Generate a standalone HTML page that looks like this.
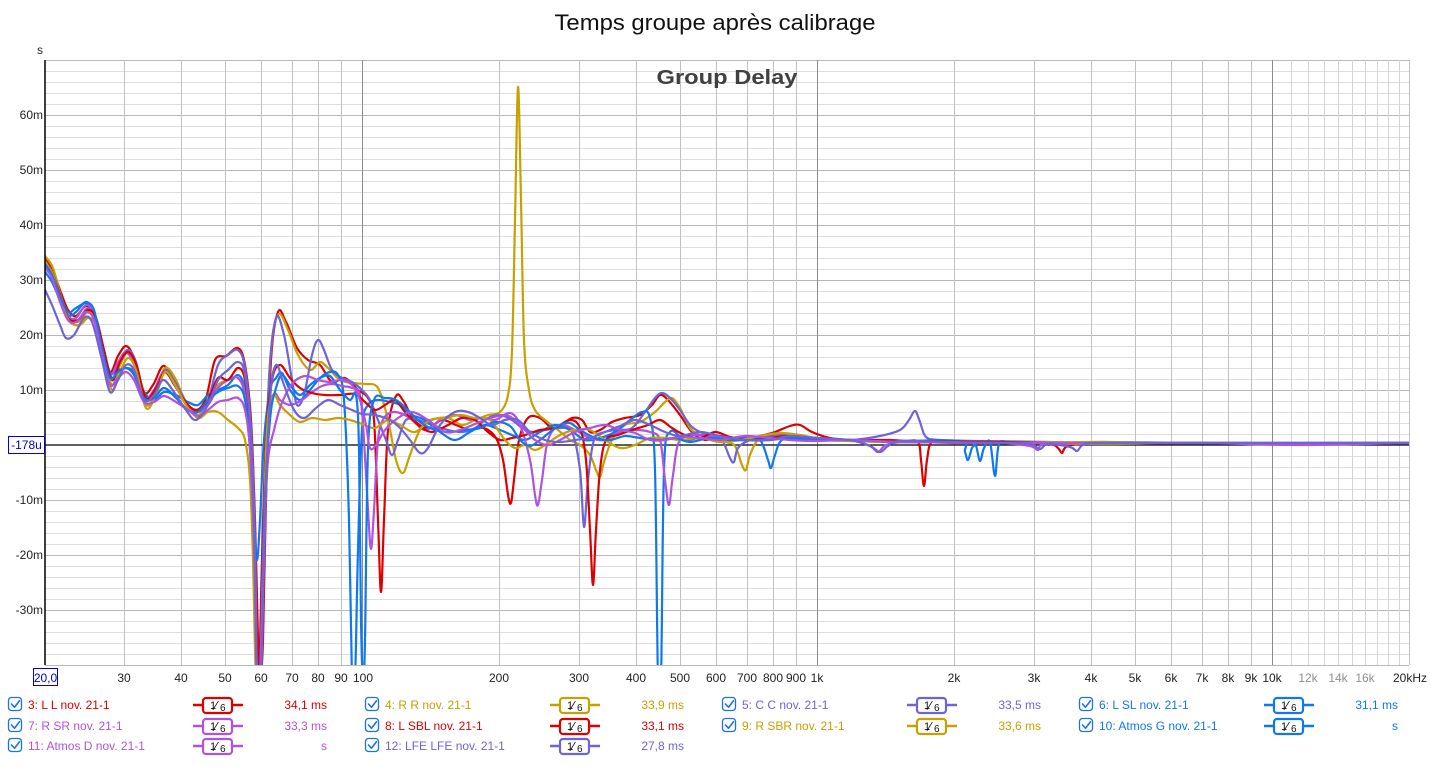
<!DOCTYPE html>
<html><head><meta charset="utf-8">
<style>
html,body{margin:0;padding:0;background:#fff;}
svg{display:block;font-family:"Liberation Sans",sans-serif;}
</style></head>
<body>
<svg id="c" width="1431" height="779" viewBox="0 0 1431 779" xmlns="http://www.w3.org/2000/svg">
<rect x="0" y="0" width="1431" height="779" fill="#fff"/>
<defs><clipPath id="pc"><rect x="45" y="60" width="1364" height="605"/></clipPath></defs>
<g id="grid"></g>
<line x1="45" y1="445" x2="1409" y2="445" stroke="#000" stroke-width="1.2"/>
<g id="curves" clip-path="url(#pc)" fill="none" stroke-width="2.2" stroke-linejoin="round" stroke-linecap="round"></g>
<line x1="45" y1="60" x2="45" y2="665" stroke="#000" stroke-width="1.5"/>

<text x="715" y="30" font-size="22" text-anchor="middle" fill="#111" textLength="321" lengthAdjust="spacingAndGlyphs">Temps groupe après calibrage</text>
<text x="727" y="84" font-size="20" font-weight="bold" text-anchor="middle" fill="#404040" textLength="141" lengthAdjust="spacingAndGlyphs">Group Delay</text>

<g font-size="12" fill="#222" text-anchor="end">
<text x="43" y="54">s</text>
<text x="43" y="119">60m</text>
<text x="43" y="174">50m</text>
<text x="43" y="229">40m</text>
<text x="43" y="284">30m</text>
<text x="43" y="339">20m</text>
<text x="43" y="394">10m</text>
<text x="43" y="504">-10m</text>
<text x="43" y="559">-20m</text>
<text x="43" y="614">-30m</text>
</g>
<rect x="8.5" y="436.5" width="36" height="17" fill="#fff" stroke="#0000e0" stroke-width="1"/>
<text x="26.5" y="449" font-size="12" text-anchor="middle" fill="#0000d0">-178u</text>

<rect x="33.5" y="668.5" width="24" height="17" fill="#fff" stroke="#0000e0" stroke-width="1"/>
<text x="45.5" y="682" font-size="12" text-anchor="middle" fill="#0000d0">20,0</text>
<g font-size="12" fill="#222" text-anchor="middle">
<text x="124" y="682">30</text>
<text x="181" y="682">40</text>
<text x="225" y="682">50</text>
<text x="261" y="682">60</text>
<text x="292" y="682">70</text>
<text x="318" y="682">80</text>
<text x="341" y="682">90</text>
<text x="363" y="682">100</text>
<text x="499" y="682">200</text>
<text x="579" y="682">300</text>
<text x="636" y="682">400</text>
<text x="680" y="682">500</text>
<text x="716" y="682">600</text>
<text x="747" y="682">700</text>
<text x="773" y="682">800</text>
<text x="796" y="682">900</text>
<text x="817" y="682">1k</text>
<text x="954" y="682">2k</text>
<text x="1034" y="682">3k</text>
<text x="1091" y="682">4k</text>
<text x="1135" y="682">5k</text>
<text x="1171" y="682">6k</text>
<text x="1202" y="682">7k</text>
<text x="1228" y="682">8k</text>
<text x="1251" y="682">9k</text>
<text x="1272" y="682">10k</text>
<text x="1308" y="682" fill="#909090">12k</text>
<text x="1338" y="682" fill="#909090">14k</text>
<text x="1365" y="682" fill="#909090">16k</text>
<text x="1393" y="682" text-anchor="start">20kHz</text>
</g>

<g id="legend" font-size="12">
<!-- row 1 -->
<text x="28" y="709" fill="#dd0000">3: L L nov. 21-1</text>
<text x="327" y="709" fill="#dd0000" text-anchor="end">34,1 ms</text>
<text x="385" y="709" fill="#c8a000">4: R R nov. 21-1</text>
<text x="684" y="709" fill="#c8a000" text-anchor="end">33,9 ms</text>
<text x="742" y="709" fill="#6f63d8">5: C C nov. 21-1</text>
<text x="1041" y="709" fill="#6f63d8" text-anchor="end">33,5 ms</text>
<text x="1099" y="709" fill="#0f78ef">6: L SL nov. 21-1</text>
<text x="1398" y="709" fill="#0f78ef" text-anchor="end">31,1 ms</text>
<!-- row 2 -->
<text x="28" y="730" fill="#b052e0">7: R SR nov. 21-1</text>
<text x="327" y="730" fill="#b052e0" text-anchor="end">33,3 ms</text>
<text x="385" y="730" fill="#dd0000">8: L SBL nov. 21-1</text>
<text x="684" y="730" fill="#dd0000" text-anchor="end">33,1 ms</text>
<text x="742" y="730" fill="#c8a000">9: R SBR nov. 21-1</text>
<text x="1041" y="730" fill="#c8a000" text-anchor="end">33,6 ms</text>
<text x="1099" y="730" fill="#0f78ef">10: Atmos G nov. 21-1</text>
<text x="1398" y="730" fill="#0f78ef" text-anchor="end">s</text>
<!-- row 3 -->
<text x="28" y="750" fill="#b052e0">11: Atmos D nov. 21-1</text>
<text x="327" y="750" fill="#b052e0" text-anchor="end">s</text>
<text x="385" y="750" fill="#6f63d8">12: LFE LFE nov. 21-1</text>
<text x="684" y="750" fill="#6f63d8" text-anchor="end">27,8 ms</text>
</g>
<g id="icons"></g>
</svg>
<script>
(function(){
var NS="http://www.w3.org/2000/svg";
function el(tag,attrs,parent){var e=document.createElementNS(NS,tag);for(var k in attrs)e.setAttribute(k,attrs[k]);parent.appendChild(e);return e;}
function fx(f){return 362+455*Math.log10(f/100);}
var g=document.getElementById('grid');
// horizontal
for(var y=60;y<=665;y+=11){
  if(y===445)continue;
  var ms=Math.round((445-y)/5.5);
  var major=(ms%10===0);
  el('line',{x1:45,y1:y+0.5,x2:1409,y2:y+0.5,stroke:major?'#b8b8b8':'#dedede','stroke-width':1},g);
}
// vertical
var decs=[10,100,1000,10000];
for(var i=0;i<decs.length;i++){
  for(var m=1;m<=9;m++){
    var f=m*decs[i];
    if(f<=20||f>20000)continue;
    var col=(m===1)?'#8a8a8a':'#c2c2c2';
    var x=Math.round(fx(f))+0.5;
    el('line',{x1:x,y1:60,x2:x,y2:665,stroke:col,'stroke-width':1},g);
  }
}
for(var f=11000;f<20000;f+=1000){
  var x=Math.round(fx(f))+0.5;
  el('line',{x1:x,y1:60,x2:x,y2:665,stroke:'#d4d4d4','stroke-width':1},g);
}
el('line',{x1:1409.5,y1:60,x2:1409.5,y2:665,stroke:'#c2c2c2','stroke-width':1},g);

function path(p){
  var d='M'+p[0][0]+','+p[0][1];
  for(var i=0;i<p.length-1;i++){
    var p0=p[i-1]||p[i],p1=p[i],p2=p[i+1],p3=p[i+2]||p[i+1];
    var c1x=p1[0]+(p2[0]-p0[0])/6,c1y=p1[1]+(p2[1]-p0[1])/6;
    var c2x=p2[0]-(p3[0]-p1[0])/6,c2y=p2[1]-(p3[1]-p1[1])/6;
    if(c1x<p1[0])c1x=p1[0]; if(c2x>p2[0])c2x=p2[0];
    d+=' C'+c1x.toFixed(1)+','+c1y.toFixed(1)+' '+c2x.toFixed(1)+','+c2y.toFixed(1)+' '+p2[0]+','+p2[1];
  }
  return d;
}
var RED='#dd0000',GOLD='#c8a000',SLATE='#6f63d8',BLUE='#0f78ef',ORCH='#b052e0';
var S=[
[RED,[[45,258],[52,268],[60,290],[68,310],[76,316],[86,306],[94,314],[102,345],[110,372],[118,356],[126,346],[134,358],[144,392],[153,385],[163,366],[172,378],[184,400],[196,410],[206,398],[215,360],[226,356],[238,348],[245,365],[251,420],[255,520],[258,640],[260,680],[263,640],[266,500],[271,360],[278,312],[286,322],[297,348],[308,360],[320,365],[332,382],[345,378],[358,390],[368,398],[374,420],[378,520],[381,592],[384,520],[388,430],[396,396],[404,402],[414,420],[428,428],[442,420],[456,425],[470,430],[484,428],[496,438],[503,460],[508,495],[511,503],[514,480],[519,440],[528,418],[540,418],[552,428],[562,425],[572,418],[582,420],[590,432],[600,430],[612,422],[625,418],[640,415],[652,405],[660,395],[668,400],[680,415],[692,432],[705,440],[720,436],[740,440],[760,436],[775,432],[790,426],[800,425],[812,432],[830,438],[850,440],[870,440],[890,440],[905,441],[918,442],[921,460],[924,486],[927,460],[932,442],[950,443],[980,443],[1020,443],[1050,444],[1058,448],[1062,453],[1066,447],[1080,444],[1120,443],[1200,443],[1300,443],[1409,443]]],
[GOLD,[[45,256],[53,268],[62,300],[70,318],[78,322],[88,312],[96,320],[104,355],[112,385],[120,365],[128,352],[136,365],[146,405],[156,390],[165,368],[175,378],[186,402],[198,415],[208,402],[218,385],[228,380],[238,378],[245,395],[250,440],[253,520],[255,620],[257,680],[260,680],[263,560],[267,420],[272,340],[279,314],[288,330],[298,355],[310,370],[320,362],[330,370],[340,380],[352,383],[365,384],[378,388],[388,420],[396,460],[403,473],[410,455],[420,430],[432,420],[448,418],[462,425],[475,420],[488,415],[500,412],[508,395],[512,350],[515,220],[518,87],[521,200],[524,340],[529,390],[535,410],[545,420],[558,430],[570,440],[580,445],[590,455],[596,470],[600,477],[604,462],[612,440],[625,425],[640,422],[655,412],[665,402],[672,398],[680,408],[690,428],[700,435],[712,438],[725,442],[735,446],[742,465],[746,470],[750,455],[758,440],[770,440],[790,438],[817,440],[850,441],[900,442],[1000,443],[1100,444],[1200,443],[1409,443]]],
[SLATE,[[45,266],[52,275],[62,305],[70,318],[78,320],[88,308],[96,318],[104,350],[112,378],[120,360],[128,350],[136,362],[146,400],[156,388],[165,370],[175,382],[186,402],[198,412],[208,400],[218,365],[228,355],[238,350],[245,368],[251,430],[255,540],[257,680],[260,680],[264,540],[269,380],[276,318],[284,335],[292,380],[297,405],[304,395],[312,355],[318,340],[324,350],[332,370],[342,378],[352,382],[362,390],[370,400],[378,420],[386,440],[392,455],[398,440],[406,420],[418,420],[432,425],[448,430],[462,432],[475,428],[488,418],[500,415],[512,420],[522,428],[532,432],[545,430],[560,428],[572,432],[580,470],[584,527],[588,480],[594,440],[605,432],[618,430],[632,428],[645,412],[655,398],[662,393],[670,398],[680,410],[690,425],[700,432],[712,435],[722,440],[730,458],[734,462],[738,448],[750,440],[770,436],[790,435],[817,438],[850,440],[880,436],[900,430],[909,420],[915,411],[920,422],[926,437],[940,440],[980,441],[1050,442],[1100,443],[1200,443],[1409,443]]],
[BLUE,[[45,272],[52,282],[60,300],[68,315],[76,312],[86,302],[94,312],[102,345],[110,372],[118,370],[126,368],[134,372],[144,392],[154,400],[164,392],[176,395],[188,402],[198,405],[208,395],[218,390],[228,385],[238,375],[245,390],[250,440],[254,520],[257,560],[260,520],[264,440],[270,390],[276,378],[282,373],[290,390],[300,400],[310,390],[320,378],[330,372],[338,375],[344,400],[349,520],[352,680],[355,680],[358,550],[362,430],[368,405],[378,400],[390,402],[400,405],[412,415],[425,420],[440,432],[455,440],[470,432],[485,425],[500,430],[512,435],[525,440],[540,432],[555,425],[570,430],[585,440],[600,438],[615,432],[630,420],[642,412],[650,418],[655,470],[658,680],[661,680],[664,470],[670,432],[685,440],[700,438],[720,440],[745,438],[760,440],[768,460],[771,468],[775,455],[782,440],[800,438],[817,438],[850,440],[900,441],[960,441],[965,452],[968,460],[972,448],[976,446],[980,461],[984,448],[990,442],[995,476],[999,444],[1010,442],[1050,443],[1100,442],[1200,443],[1409,443]]],
[ORCH,[[45,262],[52,272],[60,298],[68,316],[76,318],[86,305],[94,314],[102,350],[110,375],[118,362],[126,352],[134,365],[144,398],[154,390],[164,372],[176,386],[188,406],[198,410],[208,405],[218,388],[228,380],[238,378],[245,395],[251,450],[255,560],[257,680],[260,680],[264,560],[268,430],[274,395],[280,400],[290,405],[302,400],[312,392],[322,386],[332,384],[342,386],[352,388],[360,395],[364,440],[368,510],[371,549],[374,510],[378,440],[384,418],[395,412],[410,418],[425,430],[440,420],[455,415],[470,420],[482,418],[495,420],[510,413],[520,425],[530,460],[535,495],[538,505],[542,480],[548,440],[560,425],[575,430],[590,438],[605,440],[620,432],[635,430],[650,432],[660,440],[665,480],[669,505],[673,475],[680,440],[700,435],[720,438],[745,440],[770,440],[790,438],[817,440],[850,440],[870,446],[878,452],[886,445],[905,442],[950,442],[1000,443],[1030,446],[1038,450],[1046,444],[1100,443],[1200,443],[1409,443]]],
[RED,[[45,262],[52,272],[60,295],[68,318],[78,320],[88,310],[96,318],[104,350],[112,380],[120,362],[128,352],[136,364],[146,398],[156,388],[165,372],[175,386],[188,405],[198,410],[208,400],[218,378],[228,380],[238,368],[245,380],[250,430],[254,540],[256,680],[259,680],[262,560],[266,440],[272,380],[280,365],[290,378],[300,388],[312,393],[325,395],[340,395],[355,394],[365,402],[375,410],[385,405],[395,400],[405,412],[418,425],[432,432],[448,425],[462,418],[475,420],[488,432],[500,440],[512,438],[525,435],[540,430],[555,428],[570,420],[580,428],[586,460],[590,530],[593,585],[596,530],[600,470],[606,440],[618,435],[632,430],[648,425],[660,420],[672,428],[685,435],[700,438],[715,432],[730,437],[750,440],[770,438],[790,436],[817,438],[850,440],[900,441],[1000,442],[1100,443],[1409,443]]],
[GOLD,[[45,262],[53,275],[62,305],[70,322],[80,325],[88,318],[96,325],[104,360],[112,390],[120,372],[128,358],[136,370],[146,408],[156,395],[165,372],[175,385],[186,405],[198,418],[208,412],[218,412],[228,420],[238,428],[245,440],[250,480],[253,560],[256,680],[260,680],[263,560],[267,430],[273,395],[280,405],[290,415],[300,422],[312,418],[325,420],[338,418],[350,420],[362,424],[375,428],[388,420],[400,425],[415,432],[430,420],[445,418],[460,415],[475,418],[490,420],[505,440],[515,448],[525,445],[535,450],[545,445],[560,435],[575,430],[590,430],[605,440],[620,448],[635,445],[650,438],[665,438],[680,440],[700,438],[720,442],[740,440],[760,436],[780,433],[800,435],[817,438],[850,441],[900,442],[1000,443],[1100,442],[1200,443],[1409,443]]],
[BLUE,[[45,264],[52,275],[60,296],[68,312],[76,308],[86,303],[94,310],[102,348],[110,378],[118,372],[126,368],[134,375],[144,398],[154,398],[164,388],[176,398],[188,410],[198,412],[208,400],[218,392],[228,388],[238,386],[245,400],[250,450],[254,540],[257,680],[260,680],[264,520],[270,420],[276,388],[282,375],[290,385],[300,395],[310,385],[320,378],[330,376],[340,390],[350,400],[356,395],[359,450],[361,620],[363,680],[365,640],[368,450],[374,400],[385,398],[396,400],[408,410],[420,422],[435,430],[450,432],[465,430],[480,428],[495,422],[510,426],[520,440],[530,446],[540,440],[550,432],[560,425],[570,423],[580,430],[595,438],[610,440],[625,436],[640,438],[660,440],[675,438],[690,442],[710,438],[730,440],[760,440],[790,438],[817,440],[850,440],[900,442],[1000,443],[1100,443],[1200,443],[1300,444],[1409,443]]],
[ORCH,[[45,268],[52,278],[60,302],[68,320],[76,322],[86,312],[94,320],[102,355],[110,385],[118,378],[126,372],[134,380],[144,402],[154,402],[164,396],[176,402],[188,410],[198,416],[208,410],[218,402],[228,400],[238,398],[245,410],[250,450],[254,540],[257,680],[260,680],[264,540],[268,460],[274,430],[280,408],[288,390],[296,380],[306,376],[318,380],[330,382],[342,380],[352,385],[360,400],[366,425],[370,448],[376,445],[385,430],[398,418],[412,412],[428,420],[445,432],[460,430],[475,424],[490,418],[505,415],[515,420],[525,430],[535,440],[548,445],[560,440],[575,432],[590,428],[605,425],[620,430],[635,433],[650,440],[665,440],[680,437],[700,438],[720,440],[745,436],[770,438],[790,440],[817,441],[850,440],[900,442],[1000,443],[1100,443],[1200,443],[1300,445],[1409,443]]],
[SLATE,[[45,290],[52,305],[60,325],[66,338],[74,335],[84,318],[92,322],[102,360],[110,392],[118,380],[126,365],[134,370],[144,400],[154,395],[163,380],[174,392],[186,410],[196,420],[208,405],[218,380],[228,370],[238,362],[245,375],[251,440],[255,560],[257,680],[261,680],[265,520],[270,400],[276,365],[284,385],[294,410],[304,418],[316,408],[328,400],[340,405],[352,410],[362,414],[375,415],[390,420],[400,428],[410,440],[420,453],[428,448],[440,425],[455,412],[468,412],[480,418],[492,425],[505,420],[518,420],[530,432],[545,440],[560,442],[575,440],[590,438],[605,432],[620,426],[635,420],[650,425],[665,432],[680,436],[700,432],[720,436],[745,440],[770,440],[790,436],[817,438],[850,440],[870,446],[880,452],[888,446],[900,441],[950,442],[1000,443],[1030,444],[1040,449],[1048,444],[1070,447],[1077,451],[1083,445],[1100,443],[1200,443],[1409,443]]]
];
var cg=document.getElementById('curves');
for(var i=0;i<S.length;i++){
  el('path',{d:path(S[i][1]),stroke:S[i][0]},cg);
}
// legend icons
var ic=document.getElementById('icons');
var rows=[[RED,GOLD,SLATE,BLUE],[ORCH,RED,GOLD,BLUE],[ORCH,SLATE]];
var ry=[697,718,738];
for(var r=0;r<rows.length;r++){
  for(var c=0;c<rows[r].length;c++){
    var col=rows[r][c], ox=357*c, y0=ry[r];
    // checkbox
    el('rect',{x:8.5+ox,y:y0+0.5,width:13,height:13,rx:3,fill:'#fff',stroke:'#1a73e8','stroke-width':1.3},ic);
    el('path',{d:'M'+(11.5+ox)+','+(y0+7)+' l3,3.2 l5,-6.5',fill:'none',stroke:'#1a73e8','stroke-width':1.6,'stroke-linecap':'round','stroke-linejoin':'round'},ic);
    // filter icon
    el('line',{x1:193+ox,y1:y0+8,x2:243+ox,y2:y0+8,stroke:col,'stroke-width':2.5},ic);
    el('rect',{x:203+ox,y:y0+1,width:29,height:15,rx:3,fill:'#fff',stroke:col,'stroke-width':2.2},ic);
    var t=el('text',{x:210+ox,y:y0+12,'font-size':11,fill:'#111'},ic);
    t.textContent='1';
    var t2=el('text',{x:215+ox,y:y0+13,'font-size':13,fill:'#111'},ic);
    t2.textContent='\u2044';
    var t3=el('text',{x:220+ox,y:y0+14,'font-size':10,fill:'#111'},ic);
    t3.textContent='6';
  }
}
})();
</script>
</body></html>
